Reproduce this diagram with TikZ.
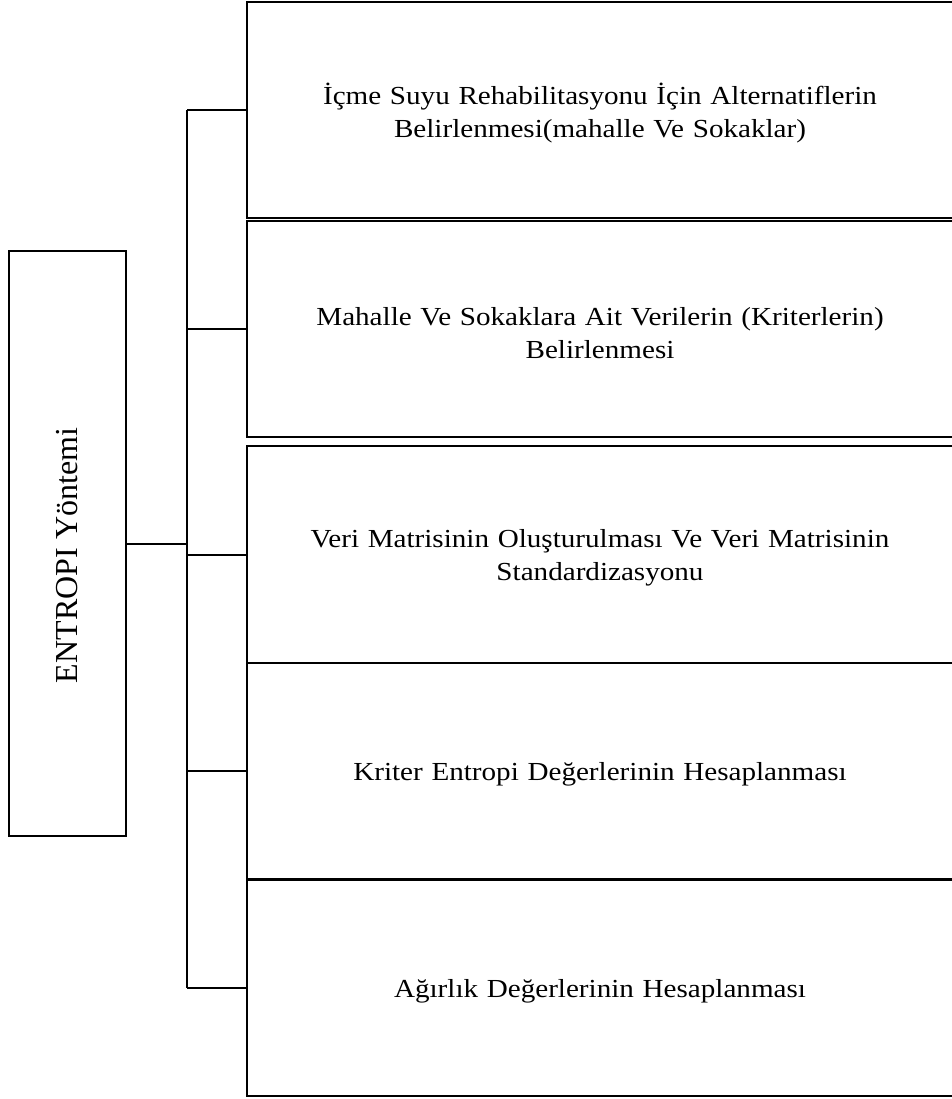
\documentclass[tikz,border=0pt]{standalone}
\usepackage{fontspec}
\setmainfont{Liberation Serif}
\newfontfamily\boxfont[FakeStretch=1.12]{Liberation Serif}
\begin{document}
\begin{tikzpicture}[x=1pt,y=-1pt,
  line width=2pt,
  stepbox/.style={draw, line width=2pt, minimum width=706pt, inner sep=0pt},
  steptext/.style={text width=690pt, align=center, inner sep=0pt,
    font=\boxfont\fontsize{26}{33}\selectfont},
  link/.style={draw, line width=2pt}
]
\useasboundingbox (0,0) rectangle (951,1099);
% left box
\node[draw, line width=2pt, minimum width=117pt, minimum height=585pt, inner sep=0pt] (L) at (67.5,543.5) {};
\node[rotate=90, font=\fontsize{32}{36}\selectfont] (Lt) at ([yshift=-12pt]L.center) {ENTROPI Yöntemi};
% right boxes
\node[stepbox, minimum height=216pt] (B1) at (600,110) {};
\node[stepbox, minimum height=216pt] (B2) at (600,329) {};
\node[stepbox, minimum height=217pt] (B3) at (600,554.5) {};
\node[stepbox, minimum height=216pt] (B4) at (600,771) {};
\node[stepbox, minimum height=216pt] (B5) at (600,988) {};
\node[steptext] (T1) at ([yshift=-3pt]B1.center) {İçme Suyu Rehabilitasyonu İçin Alternatiflerin\\Belirlenmesi(mahalle Ve Sokaklar)};
\node[steptext] (T2) at ([yshift=-4pt]B2.center) {Mahalle Ve Sokaklara Ait Verilerin (Kriterlerin)\\Belirlenmesi};
\node[steptext] (T3) at ([yshift=-3pt]B3.center) {Veri Matrisinin Oluşturulması Ve Veri Matrisinin\\Standardizasyonu};
\node[steptext] (T4) at ([yshift=-3pt]B4.center) {Kriter Entropi Değerlerinin Hesaplanması};
\node[steptext] (T5) at ([yshift=-3pt]B5.center) {Ağırlık Değerlerinin Hesaplanması};
% connectors
\coordinate (J) at (187,543.5);
\draw[link] (L.east) -- (J);
\draw[link] (B1.west -| J) -- (B5.west -| J);
\foreach \b in {B1,B2,B3,B4,B5}{
  \draw[link] (\b.west -| J) -- (\b.west);
}
\end{tikzpicture}
\end{document}
